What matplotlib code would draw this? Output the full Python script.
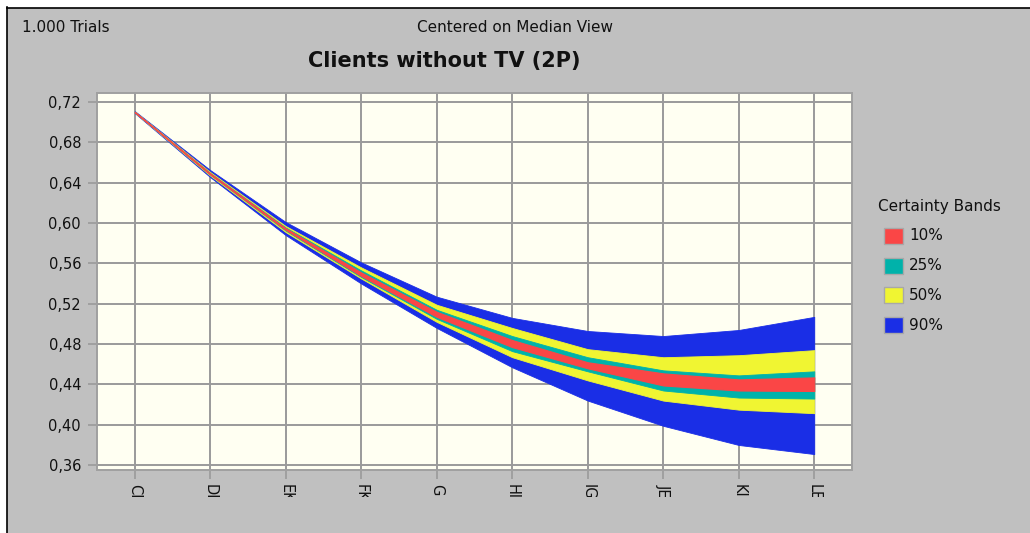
import matplotlib
matplotlib.use("Agg")
import matplotlib.pyplot as plt
from matplotlib.patches import Rectangle
from matplotlib.lines import Line2D
from matplotlib.transforms import Bbox, TransformedBbox, IdentityTransform, blended_transform_factory

plt.rcParams['font.family'] = ['DejaVu Sans']

# ---- data ----
periods = ["CI", "DI", "EK", "FK", "G", "HI", "IG", "JE", "KI", "LE"]
p05 = [0.7090, 0.6455, 0.5880, 0.5400, 0.4960, 0.4570, 0.4240, 0.3990, 0.3800, 0.3710]
p95 = [0.7110, 0.6525, 0.6010, 0.5610, 0.5270, 0.5060, 0.4930, 0.4880, 0.4940, 0.5070]
p25 = [0.7095, 0.6470, 0.5910, 0.5450, 0.5020, 0.4670, 0.4440, 0.4240, 0.4150, 0.4115]
p75 = [0.7105, 0.6505, 0.5970, 0.5560, 0.5190, 0.4960, 0.4750, 0.4670, 0.4690, 0.4740]
p375 = [0.7098, 0.6480, 0.5925, 0.5465, 0.5050, 0.4730, 0.4530, 0.4340, 0.4270, 0.4260]
p625 = [0.7102, 0.6495, 0.5955, 0.5530, 0.5140, 0.4880, 0.4670, 0.4540, 0.4490, 0.4530]
p45 = [0.7099, 0.6482, 0.5932, 0.5475, 0.5070, 0.4770, 0.4560, 0.4390, 0.4340, 0.4335]
p55 = [0.7101, 0.6492, 0.5948, 0.5510, 0.5120, 0.4840, 0.4620, 0.4510, 0.4450, 0.4470]
yticks = [0.36, 0.40, 0.44, 0.48, 0.52, 0.56, 0.60, 0.64, 0.68, 0.72]
band_labels = ["10%", "25%", "50%", "90%"]
band_colors = ["#FA4646", "#00B2AA", "#F0F532", "#1A2EE6"]

W, H = 1030, 533
fig = plt.figure(figsize=(W / 100, H / 100), dpi=100)
fig.patch.set_facecolor("white")

def fx(px):
    return px / W

def fy(py):
    return 1 - py / H

# gray panel and black frame
fig.patches.append(Rectangle((fx(7), 0), 1 - fx(7), fy(8), transform=fig.transFigure,
                             facecolor="#C0C0C0", edgecolor="none", zorder=-10))
fig.lines.append(Line2D([fx(6.5), fx(6.5)], [0, fy(7)], transform=fig.transFigure, color="black", lw=1.2, zorder=-5))
fig.lines.append(Line2D([fx(6.5), 1], [fy(7.5), fy(7.5)], transform=fig.transFigure, color="black", lw=1.2, zorder=-5))

ax = fig.add_axes([fx(97), fy(470), fx(852) - fx(97), fy(93) - fy(470)])
ax.set_facecolor("#FFFFF2")
x = list(range(len(periods)))

ax.fill_between(x, p05, p95, color=band_colors[3], lw=0.6, zorder=3)
ax.fill_between(x, p25, p75, color=band_colors[2], lw=0.6, zorder=4)
ax.fill_between(x, p375, p625, color=band_colors[1], lw=0.6, zorder=5)
ax.fill_between(x, p45, p55, color=band_colors[0], lw=0.8, zorder=6)

ax.set_xlim(-0.5, len(periods) - 0.5)
ax.set_ylim(0.3552, 0.7289)
ax.set_yticks(yticks)
ax.set_yticklabels([f"{v:.2f}".replace(".", ",") for v in yticks], fontsize=10.5, color="#111111")
ax.set_xticks(x)
ax.set_xticklabels([])
ax.grid(True, color="#9A9A9A", lw=1.4, zorder=1)
ax.set_axisbelow(True)
ax.tick_params(axis="both", length=6.5, width=1.2, color="#9A9A9A", pad=5)
for s in ax.spines.values():
    s.set_color("#A0A0A0")
    s.set_linewidth(1.4)

# clipped rotated period labels
clip = TransformedBbox(Bbox([[0, H - 496.5], [W, H - 478]]), IdentityTransform())
tr = blended_transform_factory(ax.transData, fig.transFigure)
for xi, lab in zip(x, periods):
    t = ax.text(xi, fy(484), lab, rotation=-90, ha="center", va="top", fontsize=10.5,
                color="#111111", transform=tr, clip_on=True)
    t.set_clip_box(clip)

fig.text(fx(22), fy(27), "1.000 Trials", fontsize=11, ha="left", va="center", color="#111111")
fig.text(fx(515), fy(27), "Centered on Median View", fontsize=11, ha="center", va="center", color="#111111")
fig.text(fx(444), fy(61), "Clients without TV (2P)", fontsize=15, fontweight="bold",
         ha="center", va="center", color="#111111")

# legend
fig.text(fx(878), fy(206), "Certainty Bands", fontsize=11, ha="left", va="center", color="#111111")
for i, (lab, col) in enumerate(zip(band_labels, band_colors)):
    yc = 236 + i * 29.7
    fig.patches.append(Rectangle((fx(884), fy(yc + 8)), fx(19), fy(0) - fy(16), transform=fig.transFigure,
                                 facecolor=col, edgecolor="#A8A8A8", lw=1.0, zorder=2))
    fig.text(fx(909), fy(yc), lab, fontsize=11, ha="left", va="center", color="#111111")

fig.savefig("out.png", dpi=100, facecolor=fig.get_facecolor())
